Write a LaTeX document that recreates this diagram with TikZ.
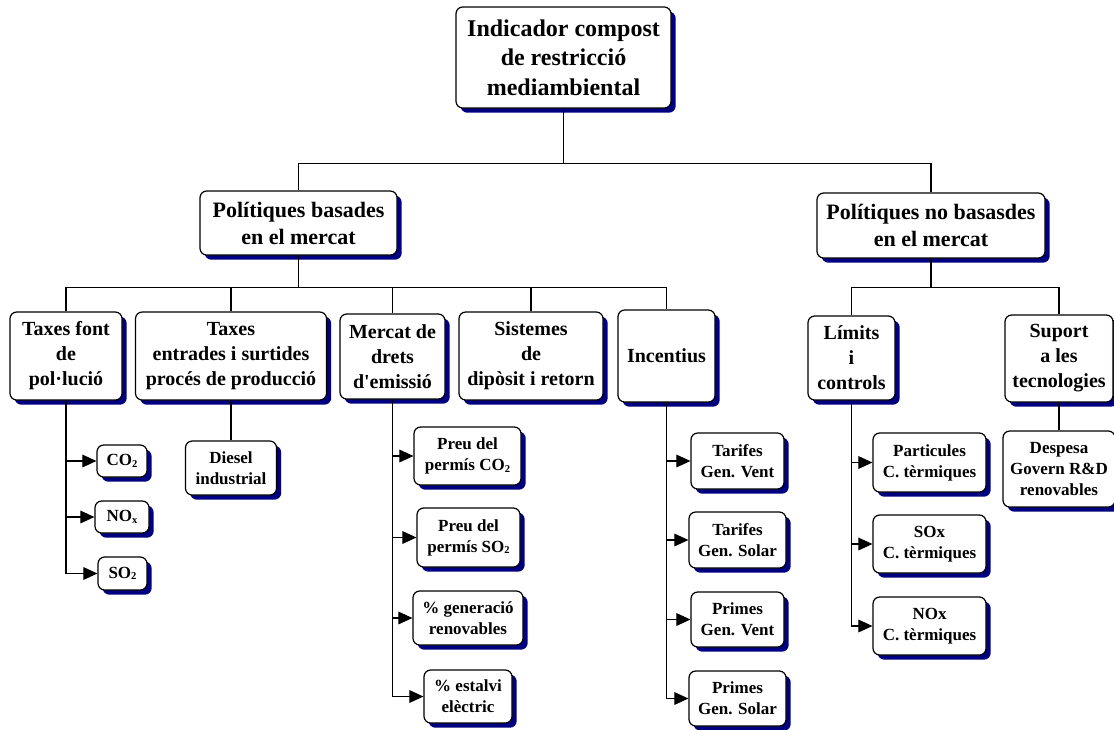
\documentclass[tikz,border=0pt]{standalone}
\usepackage{fontspec}
\setmainfont{Liberation Serif}
\usepackage{tikz}
\usetikzlibrary{arrows.meta,shadows}
\definecolor{shadownavy}{RGB}{0,0,128}
\newcommand{\chemsub}[1]{\raisebox{-0.2ex}{\scalebox{0.62}{#1}}}
\newcommand{\px}{0.75pt}

\begin{document}
\begin{tikzpicture}[x=0.75pt,y=-0.75pt,>={Triangle[length=10.5pt,width=9.5pt]},line width=0.8pt,
box/.style={draw,fill=white,rounded corners=5pt,align=center,inner sep=0pt,line width=0.9pt,
  general shadow={fill=shadownavy,shadow xshift=3.5pt,shadow yshift=-3.5pt}},
lvA/.style={box,font=\bfseries\fontsize{18}{22}\selectfont},
lvB/.style={box,font=\bfseries\fontsize{16.5}{20.25}\selectfont},
lvC/.style={box,font=\bfseries\fontsize{15}{18.75}\selectfont},
lvD/.style={box,font=\bfseries\fontsize{12.75}{15.75}\selectfont}]
\useasboundingbox (0,0) rectangle (1114,729);
\node[lvA,minimum width=215*\px,minimum height=101*\px](root) at (563.5,57.5){Indicador compost\\de restricció\\mediambiental};
\node[lvB,minimum width=197*\px,minimum height=64*\px](mkt) at (298.5,223){Polítiques basades\\en el mercat};
\node[lvB,minimum width=228*\px,minimum height=65*\px](nomkt) at (931,225.5){Polítiques no basasdes\\en el mercat};
\node[lvC,minimum width=112*\px,minimum height=88*\px](fonts) at (66,356){Taxes font\\de\\pol·lució};
\node[lvC,minimum width=191*\px,minimum height=88*\px](entrades) at (231,356){Taxes\\entrades i surtides\\procés de producció};
\node[lvC,minimum width=105*\px,minimum height=85*\px](drets) at (392.5,356.5){Mercat de\\drets\\d\textquotesingle emissió};
\node[lvC,minimum width=144*\px,minimum height=88*\px](diposit) at (531,356){Sistemes\\de\\dipòsit i retorn};
\node[lvC,minimum width=97*\px,minimum height=92*\px](incent) at (666.5,356){Incentius};
\node[lvC,minimum width=87*\px,minimum height=84*\px](limits) at (851.5,358){Límits\\i\\controls};
\node[lvC,minimum width=108*\px,minimum height=87*\px](suport) at (1059,358.5){Suport\\a les\\tecnologies};
\node[lvD,minimum width=50*\px,minimum height=32*\px](co2) at (122,461){CO\chemsub{2}};
\node[lvD,minimum width=54*\px,minimum height=32*\px](nox) at (122,517){NO\chemsub{x}};
\node[lvD,minimum width=49*\px,minimum height=33*\px](so2) at (122.5,573.5){SO\chemsub{2}};
\node[lvD,minimum width=91*\px,minimum height=54*\px](diesel) at (231,468){Diesel\\industrial};
\node[lvD,minimum width=107*\px,minimum height=58*\px](pco2) at (467.5,456){Preu del\\permís CO\chemsub{2}};
\node[lvD,minimum width=103*\px,minimum height=59*\px](pso2) at (468.5,537.5){Preu del\\permís SO\chemsub{2}};
\node[lvD,minimum width=110*\px,minimum height=54*\px](genren) at (468,618){\% generació\\renovables};
\node[lvD,minimum width=88*\px,minimum height=53*\px](estalvi) at (468,696.5){\% estalvi\\elèctric};
\node[lvD,minimum width=93*\px,minimum height=56*\px](tvent) at (737.5,461){Tarifes\\Gen. Vent};
\node[lvD,minimum width=97*\px,minimum height=56*\px](tsolar) at (737.5,540){Tarifes\\Gen. Solar};
\node[lvD,minimum width=93*\px,minimum height=55*\px](pvent) at (737.5,619.5){Primes\\Gen. Vent};
\node[lvD,minimum width=97*\px,minimum height=55*\px](psolar) at (737.5,698.5){Primes\\Gen. Solar};
\node[lvD,minimum width=113*\px,minimum height=59*\px](partic) at (929.5,462.5){Particules\\C. tèrmiques};
\node[lvD,minimum width=113*\px,minimum height=58*\px](soxct) at (929.5,544){SOx\\C. tèrmiques};
\node[lvD,minimum width=113*\px,minimum height=58*\px](noxct) at (929.5,626){NOx\\C. tèrmiques};
\node[lvD,minimum width=112*\px,minimum height=76*\px](despesa) at (1059,469){Despesa\\Govern R\&D\\renovables};
\draw(root.south)--++(0,55)-|(mkt.north);
\draw(root.south)--++(0,55)-|(nomkt.north);
\foreach \c in {fonts,entrades,drets,diposit,incent}
  \draw(mkt.south)--++(0,32)-|(\c.north);
\foreach \c in {limits,suport}
  \draw(nomkt.south)--++(0,29)-|(\c.north);
\draw(entrades)--(diesel);
\draw(suport)--(despesa);
\foreach \c in {co2,nox,so2}
  \draw[->](fonts.south)|-(\c);
\foreach \c in {pco2,pso2,genren,estalvi}
  \draw[->](drets.south)|-(\c);
\foreach \c in {tvent,tsolar,pvent,psolar}
  \draw[->](incent.south)|-(\c);
\foreach \c in {partic,soxct,noxct}
  \draw[->](limits.south)|-(\c);
\end{tikzpicture}
\end{document}
